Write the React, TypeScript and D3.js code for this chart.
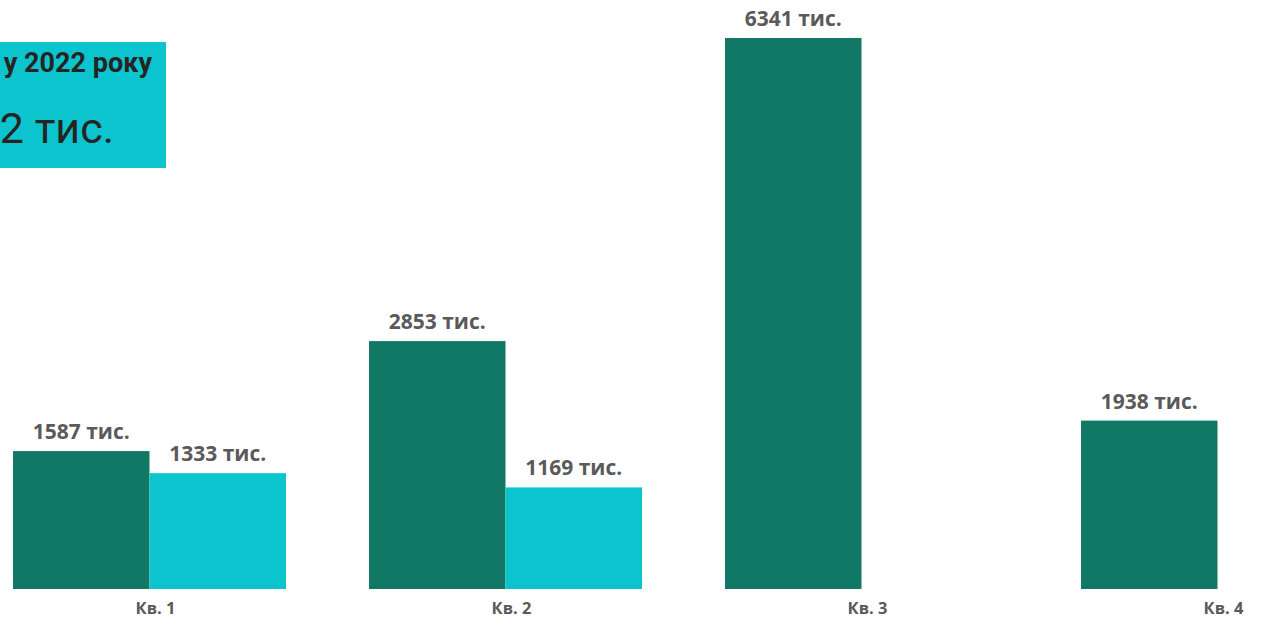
import React from "react";
import * as d3 from "d3";

const quarters = ["Кв. 1", "Кв. 2", "Кв. 3", "Кв. 4"];
const series2022 = [1587, 2853, 6341, 1938];
const series2023: (number | null)[] = [1333, 1169, null, null];
const cardLine1 = "у 2022 року";
const cardLine2 = "2 тис.";

const W = 1268;
const H = 627;
const DARK = "#117865";
const CYAN = "#0CC4CE";
const LABEL = "#5a5a5a";

export default function App() {
  const pIn = 83 / 356;
  const x0 = d3
    .scaleBand<string>()
    .domain(quarters)
    .range([13, 13 + 356 * (quarters.length - pIn)])
    .paddingInner(pIn)
    .paddingOuter(0);
  const bw = x0.bandwidth();
  const x1 = d3.scaleBand<string>().domain(["a", "b"]).range([0, bw]).padding(0);
  const y = d3.scaleLinear().domain([0, d3.max(series2022) as number]).range([589, 38]);

  const bars: { x: number; y: number; w: number; h: number; c: string; v: number }[] = [];
  quarters.forEach((q, i) => {
    const gx = x0(q) as number;
    const a = series2022[i];
    bars.push({ x: gx + (x1("a") as number), y: y(a), w: x1.bandwidth(), h: y(0) - y(a), c: DARK, v: a });
    const b = series2023[i];
    if (b != null) {
      bars.push({ x: gx + (x1("b") as number), y: y(b), w: x1.bandwidth(), h: y(0) - y(b), c: CYAN, v: b });
    }
  });

  return (
    <svg
      width={W}
      height={H}
      style={{ position: "absolute", left: 0, top: 0, background: "#fff" }}
    >
      <rect x={-10} y={42} width={176} height={126} fill={CYAN} />
      <text
        x={152}
        y={72}
        textAnchor="end"
        fontFamily="Roboto, Arial, sans-serif"
        fontWeight="bold"
        fontSize={27}
        fill="#252423"
      >
        {cardLine1}
      </text>
      <text
        x={114}
        y={143}
        textAnchor="end"
        fontFamily="Roboto, Arial, sans-serif"
        fontSize={43}
        fill="#252423"
      >
        {cardLine2}
      </text>
      {bars.map((b, i) => (
        <g key={i}>
          <rect x={b.x} y={b.y} width={b.w} height={b.h} fill={b.c} />
          <text
            x={b.x + b.w / 2}
            y={b.y - 12}
            textAnchor="middle"
            fontFamily="'Open Sans', 'DejaVu Sans', sans-serif"
            fontWeight="bold"
            fontSize={21}
            fill={LABEL}
          >
            {b.v} тис.
          </text>
        </g>
      ))}
      {quarters.map((q) => (
        <text
          key={q}
          x={(x0(q) as number) + bw / 2 + 6}
          y={614}
          textAnchor="middle"
          fontFamily="'Open Sans', 'DejaVu Sans', sans-serif"
          fontWeight="bold"
          fontSize={16.5}
          fill={LABEL}
        >
          {q}
        </text>
      ))}
    </svg>
  );
}
